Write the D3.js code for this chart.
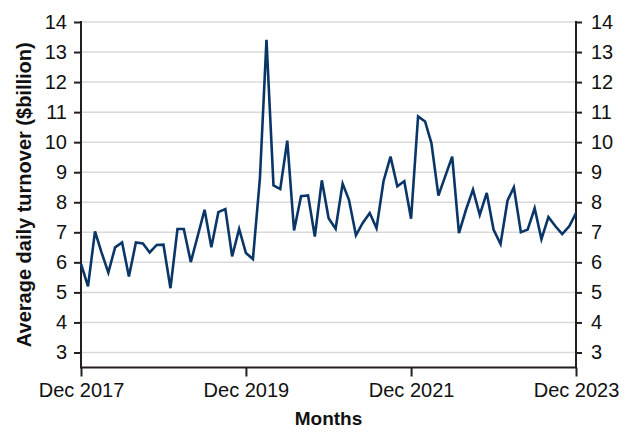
<!DOCTYPE html>
<html>
<head>
<meta charset="utf-8">
<script src="https://cdn.jsdelivr.net/npm/d3@7"></script>
<style>
  html, body { margin: 0; padding: 0; background: #fff; }
  svg { display: block; font-family: "Liberation Sans", Arial, sans-serif; }
</style>
</head>
<body>
<svg id="chart" width="635" height="444"></svg>
<script>
// Monthly average daily turnover ($billion), Dec 2017 .. Dec 2023
const startMonth = "2017-12";
const turnover = [
  5.95, 5.2, 7.03, 6.35, 5.66, 6.5, 6.66, 5.53, 6.66, 6.63, 6.33, 6.58, 6.59,
  5.14, 7.11, 7.11, 6.01, 6.86, 7.75, 6.5, 7.67, 7.77, 6.2, 7.11, 6.31,
  6.11, 8.8, 13.41, 8.56, 8.44, 10.05, 7.06, 8.2, 8.23, 6.86, 8.73, 7.47,
  7.12, 8.62, 8.08, 6.9, 7.31, 7.64, 7.14, 8.7, 9.52, 8.53, 8.7, 7.45,
  10.86, 10.69, 9.97, 8.22, 8.86, 9.52, 6.97, 7.75, 8.42, 7.58, 8.31, 7.09,
  6.61, 8.06, 8.5, 7.0, 7.09, 7.8, 6.77, 7.51, 7.2, 6.94, 7.2, 7.64
];
const yTicks = [3, 4, 5, 6, 7, 8, 9, 10, 11, 12, 13, 14];
const xTickLabels = ["Dec 2017", "Dec 2019", "Dec 2021", "Dec 2023"];
const yTitle = "Average daily turnover ($billion)";
const xTitle = "Months";

(function () {
const parseMonth = d3.timeParse("%Y-%m");
const start = parseMonth(startMonth);
const data = turnover.map((v, i) => ({ date: d3.timeMonth.offset(start, i), value: v }));
const xTickDates = xTickLabels.map(s => d3.timeParse("%b %Y")(s));

const svg = d3.select("#chart");
const mLeft = 81, mRight = 576, mTop = 22, mBottom = 367.5;

const x = d3.scaleTime()
  .domain([data[0].date, data[data.length - 1].date])
  .range([mLeft, mRight]);
const y = d3.scaleLinear().domain([2.5, 14]).range([mBottom, mTop]);

const axisColor = "#231f20";

// gridlines
svg.append("g").selectAll("line").data(yTicks).join("line")
  .attr("x1", mLeft).attr("x2", mRight)
  .attr("y1", d => y(d)).attr("y2", d => y(d))
  .attr("stroke", "#d9d9d9").attr("stroke-width", 1.5);

function styleAxis(g) {
  g.select(".domain").attr("stroke", axisColor).attr("stroke-width", 2);
  g.selectAll(".tick line").attr("stroke", axisColor).attr("stroke-width", 2);
  g.selectAll(".tick text").attr("fill", "#111").attr("font-size", 20)
    .attr("font-family", "Liberation Sans, Arial, sans-serif");
}

// left axis
svg.append("g").attr("transform", `translate(${mLeft},0)`)
  .call(d3.axisLeft(y).tickValues(yTicks).tickSize(7).tickSizeOuter(0).tickPadding(7))
  .call(styleAxis)
  .call(g => g.select(".domain").attr("d", `M0,${mBottom}V${mTop - 1}`));

// right axis
svg.append("g").attr("transform", `translate(${mRight},0)`)
  .call(d3.axisRight(y).tickValues(yTicks).tickSize(6).tickSizeOuter(0).tickPadding(9))
  .call(styleAxis)
  .call(g => g.select(".domain").attr("d", `M0,${mBottom}V${mTop - 1}`));

// bottom axis
svg.append("g").attr("transform", `translate(0,${mBottom})`)
  .call(d3.axisBottom(x).tickValues(xTickDates).tickFormat(d3.timeFormat("%b %Y"))
    .tickSize(9).tickSizeOuter(0).tickPadding(6))
  .call(styleAxis)
  .call(g => g.select(".domain").attr("d", `M${mLeft - 1},0H${mRight + 1}`));

// line
svg.append("path").datum(data)
  .attr("fill", "none")
  .attr("stroke", "#0a3667")
  .attr("stroke-width", 2.6)
  .attr("stroke-linejoin", "miter")
  .attr("d", d3.line().x(d => x(d.date)).y(d => y(d.value)));

// axis titles
svg.append("text")
  .attr("transform", `translate(31,${(mTop + mBottom) / 2}) rotate(-90)`)
  .attr("text-anchor", "middle")
  .attr("font-size", 20).attr("font-weight", "bold").attr("fill", "#111")
  .text(yTitle);

svg.append("text")
  .attr("x", (mLeft + mRight) / 2).attr("y", 425)
  .attr("text-anchor", "middle")
  .attr("font-size", 19).attr("font-weight", "bold").attr("fill", "#111")
  .text(xTitle);
})();
</script>
</body>
</html>
